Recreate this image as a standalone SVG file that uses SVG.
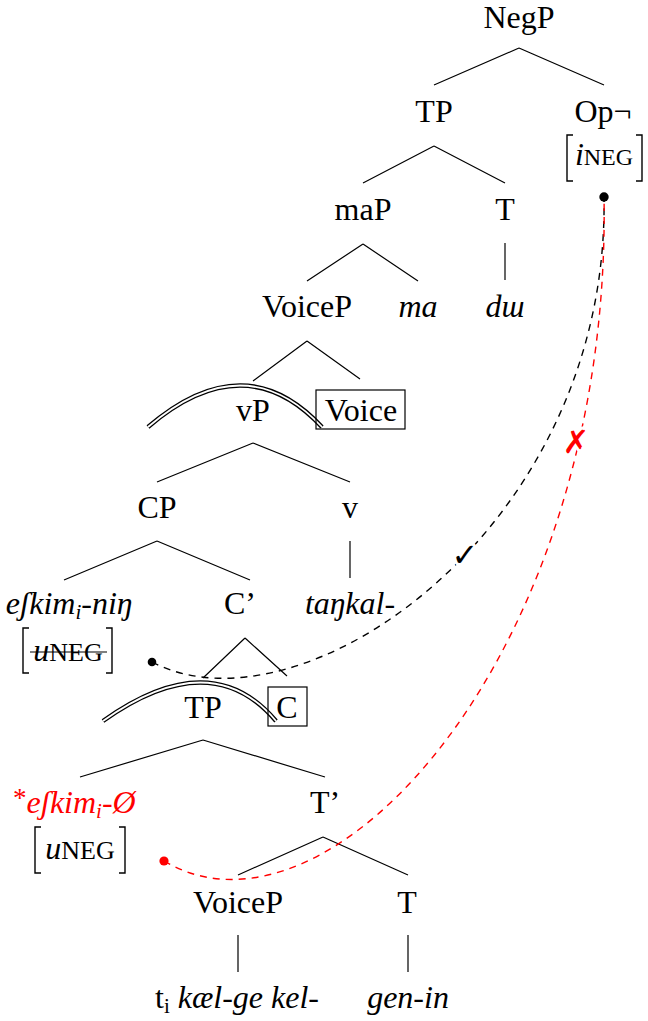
<svg xmlns="http://www.w3.org/2000/svg" width="648" height="1021" viewBox="0 0 648 1021">
<style>
text{font-family:'Liberation Serif','DejaVu Serif',serif;font-size:32px;fill:#000}
.c{text-anchor:middle}
.it{font-style:italic}
.red{fill:#ff0000}
.br{fill:none;stroke:#000;stroke-width:1.4}
.ln{stroke:#000;stroke-width:1.2;fill:none}
.box{fill:none;stroke:#000;stroke-width:1.2}
.dbl1{fill:none;stroke:#000;stroke-width:4.4}
.dbl2{fill:none;stroke:#fff;stroke-width:1.8}
.dash{fill:none;stroke-width:1.4;stroke-dasharray:7 6}
.mark{font-family:'DejaVu Sans',sans-serif;stroke:#fff;stroke-width:6;paint-order:stroke;stroke-linejoin:round}
</style>
<rect width="648" height="1021" fill="#fff"/>
<g id="edges">
<path class="ln" d="M519 48L434 85M519 48L604 85"/>
<path class="ln" d="M434 146L363 183M434 146L505 183"/>
<path class="ln" d="M505 243V280"/>
<path class="ln" d="M363 244L307 281M363 244L418 281"/>
<path class="ln" d="M307 341L253 381M307 341L360 379"/>
<path class="ln" d="M253 443L157 482M253 443L350 482"/>
<path class="ln" d="M350 541V578"/>
<path class="ln" d="M157 541L64 580M157 541L250 580"/>
<path class="ln" d="M245 638L203 678M245 638L287 676"/>
<path class="ln" d="M203 740L80 777M203 740L325 777"/>
<path class="ln" d="M323 837L238 875M323 837L408 875"/>
<path class="ln" d="M238 935V972M408 935V972"/>
<path class="dbl1" d="M148 427Q245 344 322 427"/>
<path class="dbl2" d="M148 427Q245 344 322 427"/>
<path class="dbl1" d="M103 721Q211 644 276 721"/>
<path class="dbl2" d="M103 721Q211 644 276 721"/>
<path class="dash" stroke="#000" d="M152 662C300 740 610 530 604 196"/>
<path class="dash" stroke="#ff0000" d="M164 861C330 960 612 650 604 196"/>
<circle cx="604" cy="197" r="4.7" fill="#000"/>
<circle cx="152" cy="662" r="4.3" fill="#000"/>
<circle cx="164" cy="861" r="4.6" fill="#ff0000"/>
<text class="mark c" x="465" y="566" font-size="30">✓</text>
<text class="mark c red" x="576" y="453" font-size="25" font-weight="bold">✗</text>
</g>
<g id="n-negp"><text class="c" x="519" y="28">NegP</text></g>
<g id="n-tp1"><text class="c" x="434" y="122">TP</text></g>
<g id="n-op"><text class="c" x="603" y="122">Op¬</text>
<path class="br" d="M573 135H567V181H573M636 135H642V181H636"/>
<text class="c" x="604" y="165"><tspan class="it">i</tspan><tspan font-size="24">NEG</tspan></text></g>
<g id="n-map"><text class="c" x="363" y="220">maP</text></g>
<g id="n-t1"><text class="c" x="505" y="220">T</text></g>
<g id="n-du"><text class="c it" x="505" y="317">dɯ</text></g>
<g id="n-voicep1"><text class="c" x="307" y="317">VoiceP</text></g>
<g id="n-ma"><text class="c it" x="418" y="317">ma</text></g>
<g id="n-vp"><text class="c" x="253" y="421">vP</text></g>
<g id="n-voice"><rect class="box" x="316" y="390" width="89" height="39"/><text class="c" x="361" y="421">Voice</text></g>
<g id="n-cp"><text class="c" x="157" y="518">CP</text></g>
<g id="n-v"><text class="c" x="350" y="518">v</text></g>
<g id="n-tankal"><text class="c it" x="350" y="614">taŋkal-</text></g>
<g id="n-eskim1"><text class="c it" x="69" y="614">eʃkim<tspan font-size="21" dy="5">i</tspan><tspan dy="-5">-niŋ</tspan></text>
<path class="br" d="M29 628H23V673H29M106 628H112V673H106"/>
<text class="c" x="68" y="661"><tspan class="it">u</tspan><tspan font-size="26">NEG</tspan></text>
<path class="ln" d="M30 652H107"/></g>
<g id="n-cbar"><text class="c" x="240" y="614">C’</text></g>
<g id="n-tp2"><text class="c" x="203" y="718">TP</text></g>
<g id="n-c"><rect class="box" x="268" y="687" width="39" height="39"/><text class="c" x="287" y="718">C</text></g>
<g id="n-eskim2"><text class="red" x="13" y="813"><tspan font-size="27" dy="-6">*</tspan><tspan class="it" dy="6">eʃkim</tspan><tspan class="it" font-size="21" dy="5">i</tspan><tspan class="it" dy="-5">-Ø</tspan></text>
<path class="br" d="M41 827H35V873H41M119 827H125V873H119"/>
<text class="c" x="80" y="859"><tspan class="it">u</tspan><tspan font-size="26">NEG</tspan></text></g>
<g id="n-tbar"><text class="c" x="325" y="813">T’</text></g>
<g id="n-voicep2"><text class="c" x="238" y="913">VoiceP</text></g>
<g id="n-t2"><text class="c" x="407" y="913">T</text></g>
<g id="n-ti"><text x="155" y="1008">t<tspan font-size="21" dy="5">i</tspan><tspan class="it" dy="-5"> kæl-ge kel-</tspan></text></g>
<g id="n-genin"><text class="c it" x="408" y="1008">gen-in</text></g>
</svg>
